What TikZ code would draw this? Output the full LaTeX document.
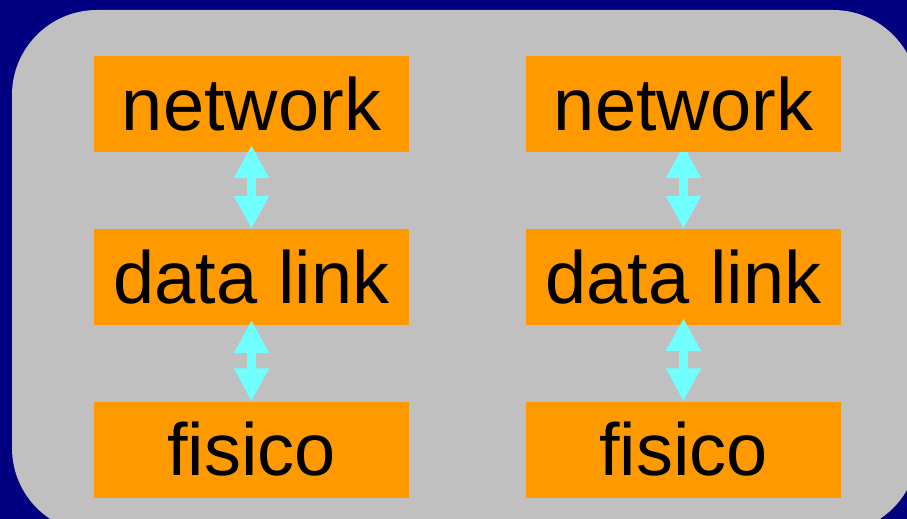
\documentclass[tikz,border=0pt]{standalone}
\usepackage{fontspec}
\setmainfont{Liberation Sans}
\usetikzlibrary{arrows.meta,backgrounds}
\definecolor{slidenavy}{HTML}{000080}
\definecolor{panelgray}{HTML}{C0C0C0}
\definecolor{layerorange}{HTML}{FF9900}
\definecolor{linkcyan}{HTML}{70FFFF}
\tikzset{
  layer/.style={fill=layerorange, minimum width=315pt, minimum height=96pt, inner sep=0pt,
    font=\fontsize{74}{80}\selectfont},
  link/.style={draw=linkcyan, line width=9pt,
    {Triangle[length=33pt,width=33pt]}-{Triangle[length=33pt,width=33pt]}}
}
\begin{document}
\begin{tikzpicture}[x=1pt, y=-1pt]
  \useasboundingbox (0, 0) rectangle (907, 519);
  \clip (0, 0) rectangle (907, 519);

  \node (netL) at (251.5, 104) [layer] {network};
  \node (dlL) at (251.5, 277) [layer] {data link};
  \node (fisL) at (251.5, 449.5) [layer] {fisico};

  \node (netR) at (683.5, 104) [layer] {network};
  \node (dlR) at (683.5, 277) [layer] {data link};
  \node (fisR) at (683.5, 449.5) [layer] {fisico};

  \begin{scope}[on background layer]
    \fill[slidenavy] (0, 0) rectangle (907, 519);
    \fill[panelgray, rounded corners=85pt] (12, 10) rectangle (918, 533);
    \draw[link] ([yshift=7pt]netR.south) -- (dlR.north);
  \end{scope}

  \draw[link] ([yshift=7pt]netL.south) -- (dlL.north);
  \draw[link] ([yshift=5pt]dlL.south) -- (fisL.north);
  \draw[link] ([yshift=7pt]dlR.south) -- (fisR.north);
\end{tikzpicture}
\end{document}
